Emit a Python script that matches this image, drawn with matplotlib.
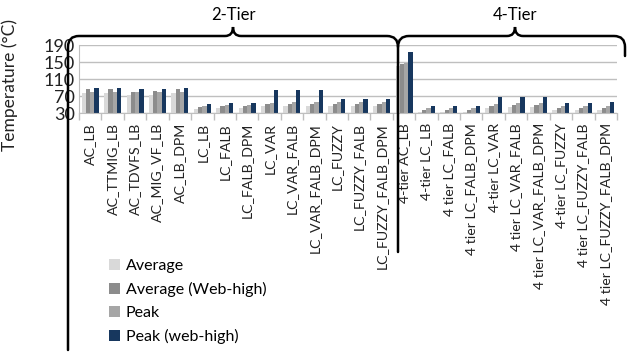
from matplotlib import pyplot as plt
from matplotlib.path import Path
from matplotlib.patches import PathPatch
import numpy as np

categorias = ['AC_LB', 'AC_TTMIG_LB', 'AC_TDVFS_LB', 'AC_MIG_VF_LB', 'AC_LB_DPM',
              'LC_LB', 'LC_FALB', 'LC_FALB_DPM', 'LC_VAR', 'LC_VAR_FALB',
              'LC_VAR_FALB_DPM', 'LC_FUZZY', 'LC_FUZZY_FALB', 'LC_FUZZY_FALB_DPM',
              '4-tier AC_LB', '4-tier LC_LB', '4 tier LC_FALB', '4 tier LC_FALB_DPM',
              '4-tier LC_VAR', '4 tier LC_VAR_FALB', '4 tier LC_VAR_FALB_DPM',
              '4-tier LC_FUZZY', '4 tier LC_FUZZY_FALB', '4 tier LC_FUZZY_FALB_DPM']

media = [77, 77, 74, 74, 77, 41, 42, 42, 48, 48, 48, 46, 46, 46,
         140, 34, 34, 34, 42, 44, 44, 38, 38, 38]
mediaWeb = [87, 87, 81, 82, 88, 45, 46, 46, 52, 52, 52, 51, 51, 51,
            146, 38, 38, 38, 47, 49, 49, 43, 43, 43]
pico = [80, 80, 80, 81, 79, 48, 50, 50, 55, 56, 56, 57, 57, 56,
        149, 42, 42, 42, 52, 53, 54, 48, 48, 48]
picoWeb = [89, 89, 86, 86, 89, 52, 54, 54, 84, 84, 84, 64, 64, 64,
           174, 47, 47, 47, 68, 69, 69, 55, 55, 56]

series = ['Average', 'Average (Web-high)', 'Peak', 'Peak (web-high)']
colores = ['#d9d9d9', '#8c8c8c', '#a6a6a6', '#17375e']
ticksY = [30, 70, 110, 150, 190]
grupos = [('2-Tier', 233), ('4-Tier', 515)]

plt.rcParams['font.family'] = ['Lato', 'DejaVu Sans']


def llave(ax, x0, x1, xc, yTop, yPico, yIzq, yDer, r=11):
	# llave con las esquinas redondeadas y un pico en el centro
	verts = [(x0, yIzq), (x0, yTop + r), (x0, yTop), (x0 + r, yTop),
	         (xc - 8, yTop), (xc, yTop), (xc, yPico), (xc, yTop), (xc + 8, yTop),
	         (x1 - r, yTop), (x1, yTop), (x1, yTop + r), (x1, yDer)]
	codes = [Path.MOVETO, Path.LINETO, Path.CURVE3, Path.CURVE3,
	         Path.LINETO, Path.CURVE3, Path.CURVE3, Path.CURVE3, Path.CURVE3,
	         Path.LINETO, Path.CURVE3, Path.CURVE3, Path.LINETO]
	ax.add_patch(PathPatch(Path(verts, codes), fill=False, lw=1.8,
	                       edgecolor='black', capstyle='round'))


fig = plt.figure(figsize=(6.3, 3.56), dpi=100)
ax = fig.add_axes([79 / 630, 1 - 113.3 / 356, 538 / 630, 68.3 / 356])

x = np.arange(len(categorias))
ancho = 0.19
valores = [media, mediaWeb, pico, picoWeb]
for i in range(4):
	ax.bar(x + (i - 1.5) * ancho, valores[i], ancho, color=colores[i], label=series[i])

ax.set_xlim(-0.5, len(categorias) - 0.5)
ax.set_ylim(30, 190)
ax.set_yticks(ticksY)
ax.tick_params(axis='y', length=0, labelsize=13, pad=3, labelcolor='#222222')
ax.set_xticks(x)
ax.set_xticklabels(categorias, rotation=90, fontsize=10.2, color='#222222')
ax.set_xticks(np.arange(-0.5, len(categorias), 1), minor=True)
ax.tick_params(axis='x', which='major', length=0, pad=7)
ax.tick_params(axis='x', which='minor', length=5, color='#bfbfbf', width=1)
ax.yaxis.grid(True, color='#bfbfbf', lw=1)
ax.set_axisbelow(True)
for lado in ['top', 'right']:
	ax.spines[lado].set_visible(False)
ax.spines['left'].set_color('#bfbfbf')
ax.spines['bottom'].set_color('#bfbfbf')
ax.set_ylabel('Temperature (°C)', fontsize=12.5, color='#222222')
ax.yaxis.set_label_coords(-0.113, 0.42)

# capa encima de todo para dibujar las llaves de 2-Tier y 4-Tier
capa = fig.add_axes([0, 0, 1, 1])
capa.set_xlim(0, 630)
capa.set_ylim(356, 0)
capa.axis('off')
capa.patch.set_alpha(0)
llave(capa, 68, 398, 233, 36, 27, 350, 252)
llave(capa, 398, 625, 515, 36, 27, 47, 56)
for nombre, xc in grupos:
	capa.text(xc, 15, nombre, fontsize=12, ha='center', va='center')

handles, labels = ax.get_legend_handles_labels()
fig.legend(handles, labels, loc='upper left', bbox_to_anchor=(101 / 630, 1 - 251 / 356),
           frameon=False, fontsize=11.5, handlelength=0.7, handleheight=0.7,
           handletextpad=0.35, labelspacing=0.55, borderpad=0)

plt.savefig('out.png', dpi=100)
